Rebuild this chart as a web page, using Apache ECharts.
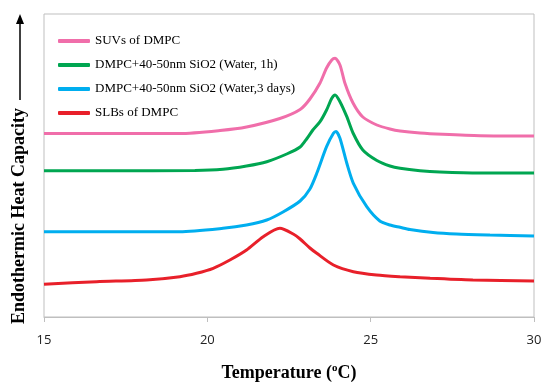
<!DOCTYPE html>
<html>
<head>
<meta charset="utf-8">
<script src="https://cdn.jsdelivr.net/npm/echarts@6/dist/echarts.min.js"></script>
<style>html,body{margin:0;padding:0;background:#fff}#c{width:543px;height:382px}</style>
</head>
<body>
<div id="c"></div>
<script>
const seriesNames = ['SUVs of DMPC', 'DMPC+40-50nm SiO2 (Water, 1h)', 'DMPC+40-50nm SiO2 (Water,3 days)', 'SLBs of DMPC'];
const xTicks = [15, 20, 25, 30];

const suvT = [15.00, 17.00, 19.16, 20.39, 21.20, 22.22, 22.84, 23.14, 23.45, 23.65, 23.81, 23.91, 24.06, 24.21, 24.46, 24.76, 25.19, 25.59, 25.90, 26.51, 27.21, 28.35, 30.00];
const suvY = [183.5, 183.5, 183.5, 186.5, 190, 198.5, 207.5, 218, 234, 249, 257, 258.7, 252, 234, 214, 200, 192, 188, 186, 184, 182.7, 181.3, 181];

const w1hT = [15.00, 17.00, 19.62, 20.48, 21.20, 21.82, 22.43, 22.84, 23.05, 23.23, 23.45, 23.65, 23.81, 23.91, 24.06, 24.27, 24.46, 24.76, 25.19, 25.59, 25.90, 26.51, 27.12, 28.35, 30.00];
const w1hY = [146.3, 146.3, 146.5, 147.7, 151, 155.3, 163, 170, 178.5, 187, 195.3, 207, 218.7, 222, 215.3, 200.3, 184, 167, 156.5, 151, 148.7, 146.3, 145, 144, 144];

const w3dT = [15.00, 17.00, 19.16, 20.48, 21.20, 21.82, 22.33, 22.84, 23.14, 23.35, 23.65, 23.86, 23.94, 24.06, 24.27, 24.47, 24.88, 25.28, 25.59, 25.90, 26.20, 26.91, 27.63, 28.65, 30.00];
const w3dY = [85.3, 85.3, 85.3, 88.7, 92, 97, 105.3, 116, 128, 143.7, 170.3, 183.7, 185.5, 178.7, 153.7, 133.7, 110.3, 96, 92, 89.7, 87.5, 84.5, 83, 82, 81];

const slbT = [15.00, 16.61, 18.14, 19.16, 19.67, 20.18, 20.69, 21.20, 21.71, 22.22, 22.63, 22.84, 23.14, 23.35, 23.86, 24.47, 25.18, 25.90, 26.82, 28.13, 30.00];
const slbY = [32.7, 35.3, 37, 40.3, 43.7, 48.7, 57, 67, 80.3, 88.7, 83, 78, 69, 63.7, 52, 45.3, 42, 40.3, 38.7, 37, 36];

const colors = ['#F06EAA', '#00A651', '#00AEEF', '#E8202A'];
const xs = [suvT, w1hT, w3dT, slbT];
const ys = [suvY, w1hY, w3dY, slbY];

const chart = echarts.init(document.getElementById('c'));
chart.setOption({
  animation: false,
  grid: { left: 44, right: 9, top: 14, bottom: 65, outerBoundsMode: 'none', containLabel: false,
    show: true, borderColor: '#BFBFBF', borderWidth: 1 },
  legend: {
    orient: 'vertical', left: 53, top: 29, itemWidth: 32, itemHeight: 4, itemGap: 10,
    icon: 'roundRect',
    data: seriesNames,
    textStyle: { fontFamily: 'Liberation Serif', fontSize: 13, color: '#000', lineHeight: 14 }
  },
  xAxis: {
    type: 'value', min: 15, max: 30, interval: 5,
    axisLine: { show: true, lineStyle: { color: '#BFBFBF' } },
    axisTick: { show: true, length: 5, lineStyle: { color: '#BFBFBF' } },
    splitLine: { show: false },
    axisLabel: { margin: 17, fontFamily: 'Open Sans', fontSize: 13, color: '#222',
      formatter: v => xTicks.includes(v) ? String(v) : '' },
    name: 'Temperature ({sup|o}C)', nameLocation: 'middle', nameGap: 46,
    nameTextStyle: { fontFamily: 'Liberation Serif', fontWeight: 'bold', fontSize: 18, color: '#000',
      rich: { sup: { fontFamily: 'Liberation Serif', fontWeight: 'bold', fontSize: 11, verticalAlign: 'top', padding: [0, 0, 9, 0] } } }
  },
  yAxis: {
    type: 'value', min: 0, max: 303,
    axisLine: { show: false }, axisTick: { show: false }, axisLabel: { show: false }, splitLine: { show: false }
  },
  graphic: [
    { type: 'text', x: 19, y: 216, rotation: Math.PI / 2,
      style: { text: 'Endothermic Heat Capacity', fontFamily: 'Liberation Serif', fontWeight: 'bold', fontSize: 18,
        fill: '#000', align: 'center', verticalAlign: 'middle' } },
    { type: 'line', shape: { x1: 20, y1: 100, x2: 20, y2: 22 }, style: { stroke: '#000', lineWidth: 1.5 } },
    { type: 'polygon', shape: { points: [[20, 14], [16, 24], [24, 24]] }, style: { fill: '#000' } }
  ],
  series: seriesNames.map((n, i) => ({
    name: n, type: 'line', smooth: 0.25, showSymbol: false, symbol: 'none',
    lineStyle: { color: colors[i], width: 3 }, itemStyle: { color: colors[i] },
    data: xs[i].map((t, k) => [t, ys[i][k]])
  }))
});
</script>
</body>
</html>
